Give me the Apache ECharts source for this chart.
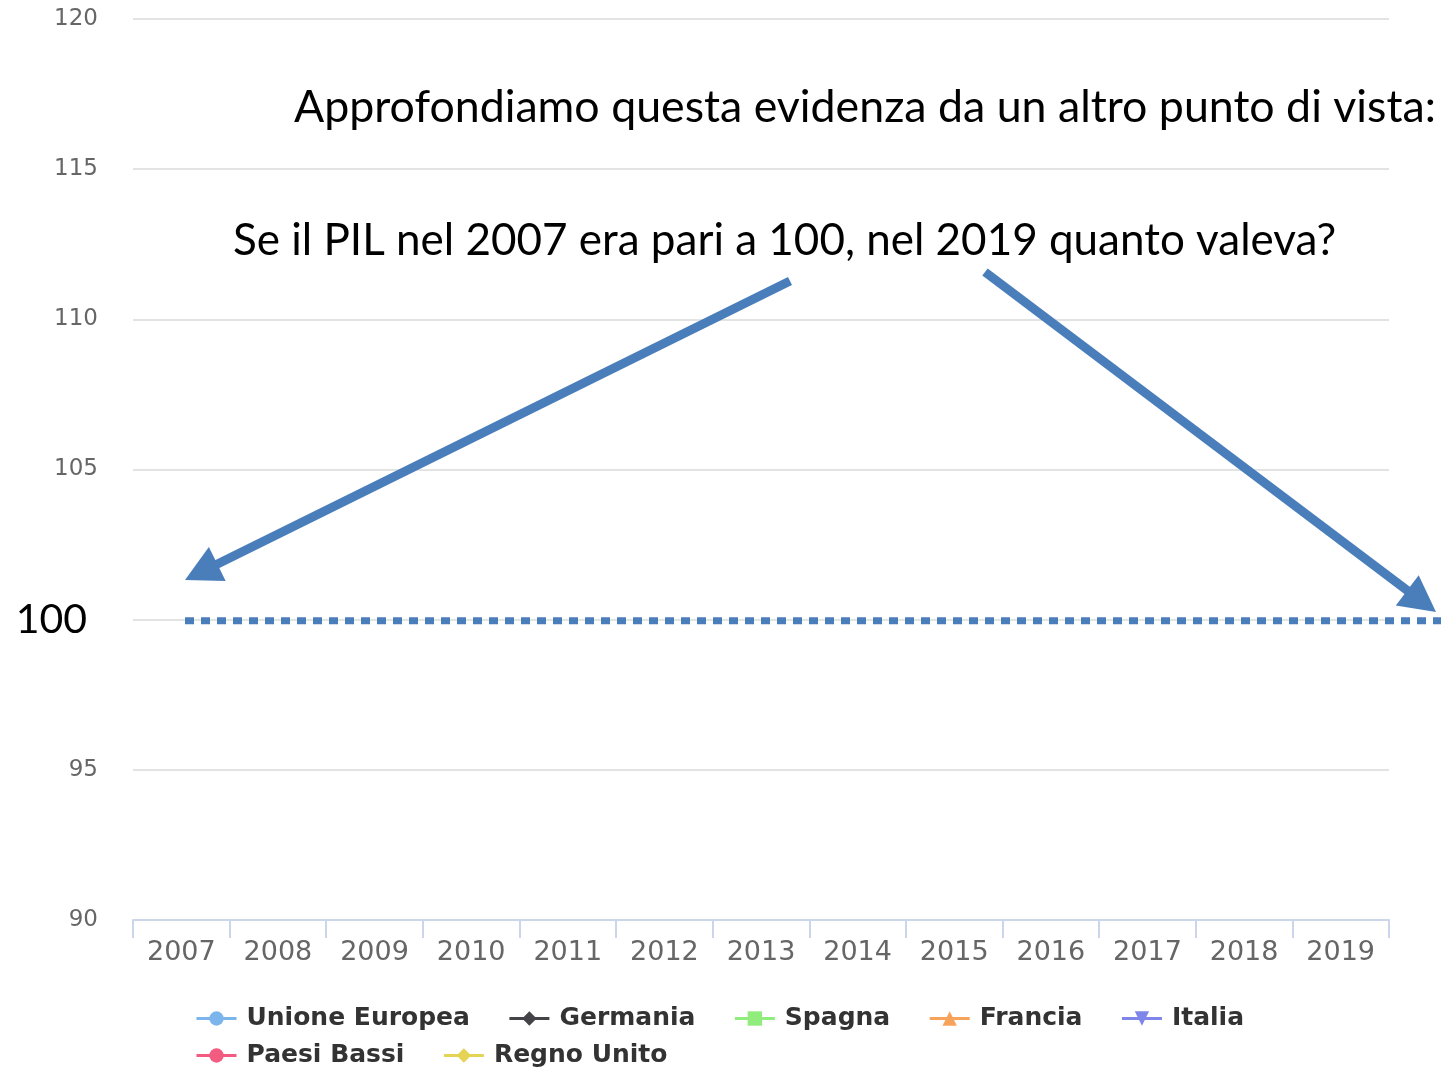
<!DOCTYPE html>
<html>
<head>
<meta charset="utf-8">
<script src="https://cdn.jsdelivr.net/npm/echarts@6/dist/echarts.min.js"></script>
<style>
html, body { margin: 0; padding: 0; background: #fff; }
#main { width: 1441px; height: 1069px; }
</style>
</head>
<body>
<div id="main"></div>
<script>
// anni sull'asse x
var years = ['2007', '2008', '2009', '2010', '2011', '2012', '2013', '2014', '2015', '2016', '2017', '2018', '2019'];
// serie (il grafico originale non mostra nessuna linea)
var seriesNames = ['Unione Europea', 'Germania', 'Spagna', 'Francia', 'Italia', 'Paesi Bassi', 'Regno Unito'];
var seriesColors = ['#7cb5ec', '#434348', '#90ed7d', '#f7a35c', '#8085e9', '#f15c80', '#e4d354'];
var seriesSymbols = ['circle', 'diamond', 'rect', 'triangle', 'path://M0,0 L10,0 L5,10 Z', 'circle', 'diamond'];
var ueValues = [];
var deValues = [];
var esValues = [];
var frValues = [];
var itValues = [];
var nlValues = [];
var ukValues = [];
var seriesValues = [ueValues, deValues, esValues, frValues, itValues, nlValues, ukValues];
// asse y
var yMin = 90, yMax = 120, yStep = 5;
var baseValue = 100;

var chart = echarts.init(document.getElementById('main'));

var series = seriesNames.map(function (name, i) {
    return {
        name: name,
        type: 'line',
        data: seriesValues[i],
        symbol: seriesSymbols[i],
        symbolSize: 12,
        itemStyle: { color: seriesColors[i] },
        lineStyle: { color: seriesColors[i], width: 3 }
    };
});

var legendCommon = {
    left: 190,
    orient: 'horizontal',
    itemGap: 38,
    itemWidth: 40,
    itemHeight: 18,
    lineStyle: { width: 3 },
    textStyle: {
        fontFamily: 'DejaVu Sans',
        fontWeight: 'bold',
        fontSize: 25,
        color: '#333',
        padding: [0, 0, 0, 5]
    }
};

chart.setOption({
    animation: false,
    backgroundColor: '#fff',
    grid: { left: 133, right: 52, top: 19, bottom: 149 },
    legend: [
        Object.assign({ top: 1001, data: seriesNames.slice(0, 5) }, legendCommon),
        Object.assign({ top: 1038, data: seriesNames.slice(5) }, legendCommon)
    ],
    xAxis: {
        type: 'category',
        data: years,
        boundaryGap: true,
        axisLine: { show: true, lineStyle: { color: '#ccd6eb', width: 2 } },
        axisTick: { show: true, alignWithLabel: false, length: 18, lineStyle: { color: '#ccd6eb', width: 2 } },
        axisLabel: {
            fontFamily: 'DejaVu Sans',
            fontSize: 27,
            color: '#666',
            margin: 19
        }
    },
    yAxis: {
        type: 'value',
        min: yMin,
        max: yMax,
        interval: yStep,
        axisLine: { show: false },
        axisTick: { show: false },
        splitLine: { lineStyle: { color: '#e3e3e3', width: 2 } },
        axisLabel: {
            margin: 35,
            fontFamily: 'DejaVu Sans',
            fontSize: 23,
            color: '#666',
            formatter: function (v) {
                return v === baseValue ? '{big|' + v + '}' : String(v);
            },
            rich: {
                big: {
                    fontFamily: 'Lato',
                    fontSize: 41,
                    color: '#000',
                    padding: [0, 11, 0, 0]
                }
            }
        }
    },
    series: series
});

// annotazioni
var blue = '#4a7ebb';
function arrow(x1, y1, x2, y2) {
    var dx = x2 - x1, dy = y2 - y1;
    var len = Math.sqrt(dx * dx + dy * dy);
    var ux = dx / len, uy = dy / len;
    var headLen = 36, headHalf = 19;
    var bx = x2 - ux * headLen, by = y2 - uy * headLen;
    return [
        {
            type: 'line',
            shape: { x1: x1, y1: y1, x2: bx + ux * 2, y2: by + uy * 2 },
            style: { stroke: blue, lineWidth: 9 }
        },
        {
            type: 'polygon',
            shape: { points: [[x2, y2], [bx - uy * headHalf, by + ux * headHalf], [bx + uy * headHalf, by - ux * headHalf]] },
            style: { fill: blue }
        }
    ];
}

var y100 = chart.convertToPixel({ yAxisIndex: 0 }, baseValue);

chart.setOption({
    graphic: [
        {
            type: 'line',
            shape: { x1: 185, y1: y100 + 1, x2: 1441, y2: y100 + 1 },
            style: { stroke: blue, lineWidth: 7, lineDash: [9, 7] }
        },
        {
            type: 'text',
            left: 294, top: 85,
            style: { text: 'Approfondiamo questa evidenza da un altro punto di vista:', font: '44.7px Lato', fill: '#000' }
        },
        {
            type: 'text',
            left: 233, top: 219,
            style: { text: 'Se il PIL nel 2007 era pari a 100, nel 2019 quanto valeva?', font: '44px Lato', fill: '#000' }
        }
    ].concat(arrow(790, 281, 185, 580), arrow(985, 272, 1436, 612))
});
</script>
</body>
</html>
